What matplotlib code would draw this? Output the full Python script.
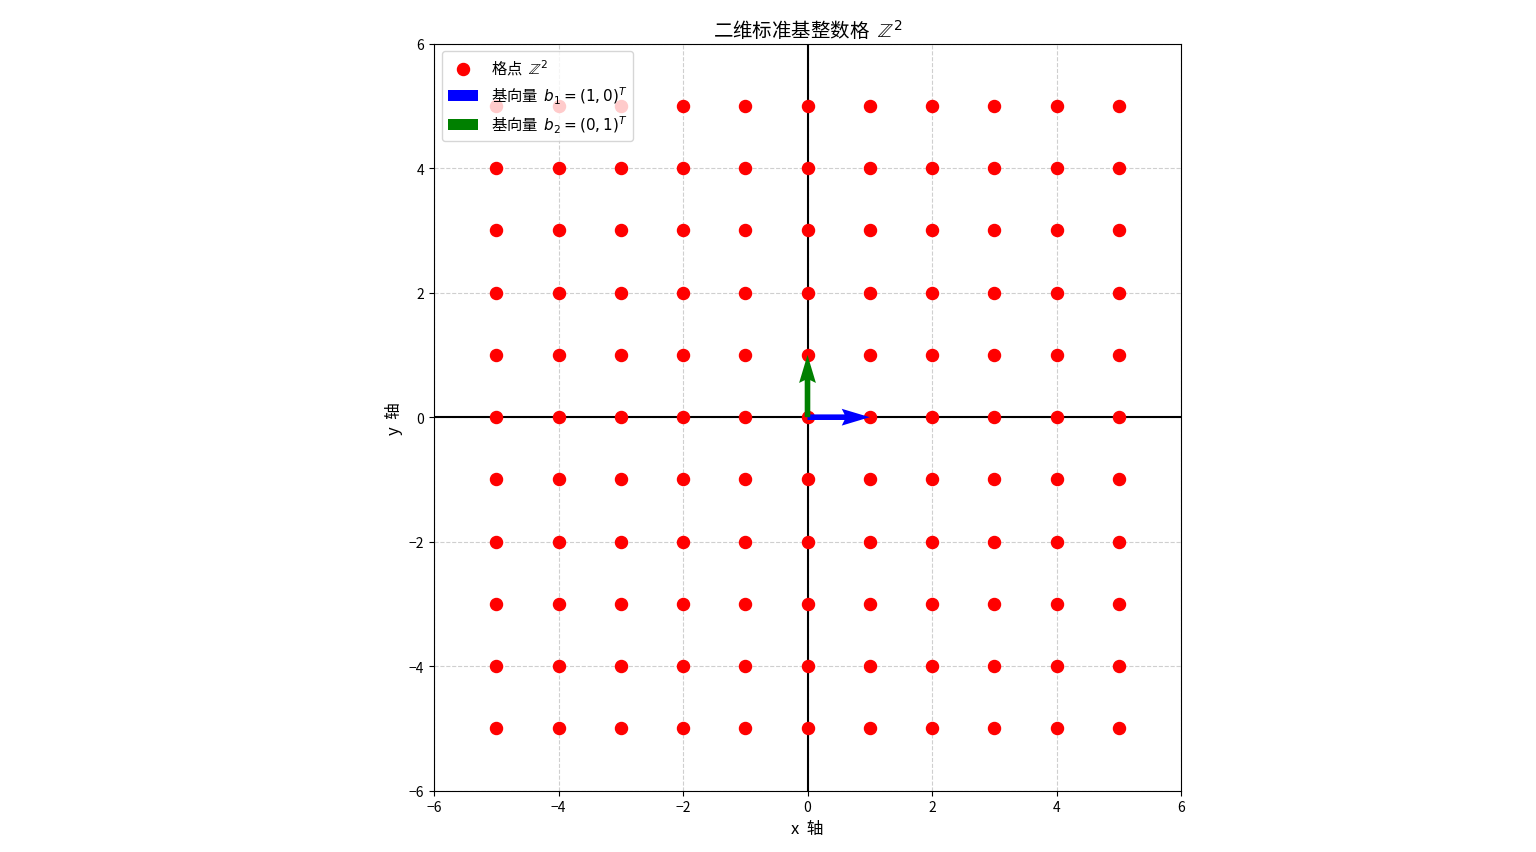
import numpy as np
import matplotlib
matplotlib.use("Agg")
import matplotlib.pyplot as plt

plt.rcParams['font.family'] = ['Noto Sans CJK SC', 'DejaVu Sans']

x_vals = [-5, -4, -3, -2, -1, 0, 1, 2, 3, 4, 5]
y_vals = [-5, -4, -3, -2, -1, 0, 1, 2, 3, 4, 5]
b1 = [1, 0]
b2 = [0, 1]
ticks = [-6, -4, -2, 0, 2, 4, 6]

X, Y = np.meshgrid(x_vals, y_vals)

fig = plt.figure(figsize=(15.36, 8.53), dpi=100)
ax = fig.add_axes([434 / 1536, 61.3 / 853, 747 / 1536, 747 / 853])
ax.grid(True, linestyle='--', alpha=0.6, zorder=0)
ax.axhline(0, color='black', linewidth=1.5, zorder=2)
ax.axvline(0, color='black', linewidth=1.5, zorder=2)
ax.scatter(X.ravel(), Y.ravel(), s=75, color='red', label=r'格点  $\mathbb{Z}^2$', zorder=3)
ax.quiver(0, 0, b1[0], b1[1], angles='xy', scale_units='xy', scale=1,
          color='blue', width=0.0075, label=r'基向量  $b_1=(1,0)^T$', zorder=4)
ax.quiver(0, 0, b2[0], b2[1], angles='xy', scale_units='xy', scale=1,
          color='green', width=0.0075, label=r'基向量  $b_2=(0,1)^T$', zorder=4)
ax.set_xlim(-6, 6)
ax.set_ylim(-6, 6)
ax.set_xticks(ticks)
ax.set_yticks(ticks)
ax.set_aspect('equal')
ax.set_xlabel('x  轴', fontsize=12)
ax.set_ylabel('y  轴', fontsize=12)
ax.set_title(r'二维标准基整数格  $\mathbb{Z}^2$', fontsize=14)
ax.legend(loc='upper left', fontsize=11)
fig.savefig('out.png', dpi=100)
